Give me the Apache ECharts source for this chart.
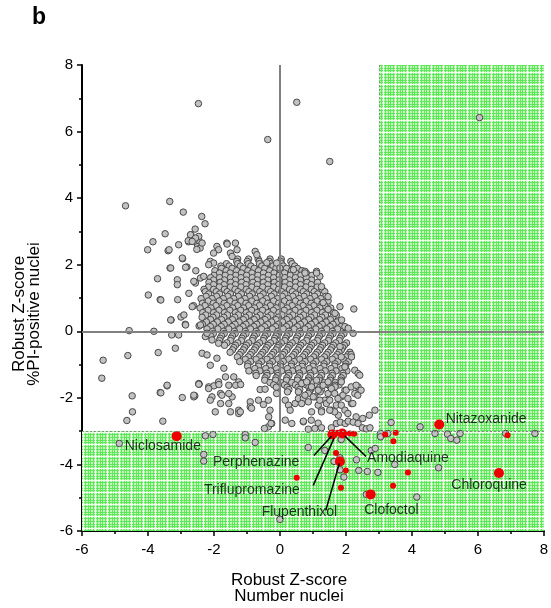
<!DOCTYPE html>
<html>
<head>
<meta charset="utf-8">
<script src="https://cdn.jsdelivr.net/npm/echarts@6/dist/echarts.min.js"></script>
<style>
  html, body { margin: 0; padding: 0; background: #fff; }
  #chart { width: 551px; height: 608px; }
</style>
</head>
<body>
<div id="chart"></div>
<script>
// axis ticks
const xTicks = [-6, -4, -2, 0, 2, 4, 6, 8];
const yTicks = [-6, -4, -2, 0, 2, 4, 6, 8];
const hitCutoff = 3; // robust Z-score threshold on both axes

// dense core of the screen, one row per y value: [y, x, x, ...]
const clusterRows = [
  [2.17, -1.28, -0.95, -0.66, -0.3, 0.04],
  [2.10, -1.31, -0.99, -0.63, -0.33, 0.02, 0.33],
  [2.03, -1.62, -1.28, -0.96, -0.62, -0.29, 0.05, 0.37],
  [1.96, -1.79, -1.54, -1.2, -0.88, -0.55, -0.21, 0.1, 0.45],
  [1.89, -1.77, -1.45, -1.11, -0.78, -0.46, -0.12, 0.2, 0.53],
  [1.82, -1.97, -1.63, -1.31, -0.97, -0.65, -0.31, 0.01, 0.35, 0.67],
  [1.75, -1.83, -1.51, -1.17, -0.85, -0.5, -0.18, 0.14, 0.48, 0.8],
  [1.68, -2.0, -1.66, -1.34, -1.01, -0.67, -0.35, -0.02, 0.31, 0.63, 0.97],
  [1.61, -2.1, -1.83, -1.5, -1.18, -0.84, -0.51, -0.19, 0.15, 0.47, 0.8],
  [1.54, -2.01, -1.68, -1.35, -1.02, -0.69, -0.37, -0.03, 0.29, 0.62, 0.96],
  [1.47, -2.15, -1.81, -1.49, -1.16, -0.82, -0.5, -0.17, 0.16, 0.48, 0.82, 1.14],
  [1.40, -2.01, -1.69, -1.35, -1.03, -0.69, -0.37, -0.04, 0.3, 0.62, 0.95],
  [1.33, -2.17, -1.84, -1.5, -1.18, -0.85, -0.52, -0.19, 0.14, 0.47, 0.79, 1.13],
  [1.26, -2.3, -2.01, -1.68, -1.36, -1.02, -0.7, -0.36, -0.04, 0.29, 0.63, 0.95, 1.28],
  [1.19, -2.26, -1.93, -1.6, -1.27, -0.94, -0.61, -0.28, 0.05, 0.38, 0.71, 1.04, 1.36],
  [1.12, -2.16, -1.83, -1.5, -1.17, -0.84, -0.51, -0.18, 0.15, 0.48, 0.81, 1.14],
  [1.05, -2.24, -1.92, -1.58, -1.26, -0.92, -0.6, -0.26, 0.07, 0.39, 0.73, 1.05, 1.39],
  [0.98, -2.39, -2.06, -1.72, -1.4, -1.06, -0.74, -0.41, -0.07, 0.25, 0.58, 0.91, 1.24],
  [0.91, -2.17, -1.84, -1.51, -1.18, -0.85, -0.52, -0.19, 0.14, 0.47, 0.8, 1.13, 1.46],
  [0.84, -2.35, -2.02, -1.69, -1.36, -1.03, -0.7, -0.37, -0.04, 0.29, 0.62, 0.95, 1.28],
  [0.77, -2.27, -1.94, -1.61, -1.28, -0.95, -0.62, -0.29, 0.04, 0.37, 0.7, 1.03, 1.36],
  [0.70, -2.42, -2.09, -1.76, -1.43, -1.1, -0.77, -0.44, -0.11, 0.22, 0.55, 0.88, 1.21, 1.54],
  [0.63, -2.18, -1.85, -1.52, -1.19, -0.86, -0.53, -0.2, 0.13, 0.46, 0.79, 1.12, 1.45],
  [0.56, -2.34, -2.01, -1.68, -1.35, -1.02, -0.69, -0.36, -0.03, 0.3, 0.63, 0.96, 1.29, 1.62],
  [0.49, -2.25, -1.92, -1.59, -1.26, -0.93, -0.6, -0.27, 0.06, 0.39, 0.72, 1.05, 1.38, 1.71],
  [0.42, -2.36, -2.03, -1.7, -1.37, -1.04, -0.71, -0.38, -0.05, 0.28, 0.61, 0.94, 1.27, 1.6],
  [0.35, -2.1, -1.77, -1.44, -1.11, -0.78, -0.45, -0.12, 0.21, 0.54, 0.87, 1.2, 1.53],
  [0.28, -2.23, -1.9, -1.57, -1.24, -0.91, -0.58, -0.25, 0.08, 0.41, 0.74, 1.07, 1.4, 1.73],
  [0.21, -2.35, -2.02, -1.69, -1.36, -1.03, -0.7, -0.37, -0.04, 0.29, 0.62, 0.95, 1.28, 1.61],
  [0.14, -2.11, -1.78, -1.45, -1.12, -0.79, -0.46, -0.13, 0.2, 0.53, 0.86, 1.19, 1.52, 1.85],
  [0.07, -2.21, -1.88, -1.55, -1.22, -0.89, -0.56, -0.23, 0.1, 0.43, 0.76, 1.09, 1.42, 1.75],
  [0.00, -2.04, -1.71, -1.38, -1.05, -0.72, -0.39, -0.06, 0.27, 0.6, 0.93, 1.26, 1.59, 1.92],
  [-0.07, -2.02, -1.69, -1.36, -1.03, -0.7, -0.37, -0.04, 0.29, 0.62, 0.95, 1.28, 1.61, 1.94],
  [-0.14, -2.1, -1.77, -1.44, -1.11, -0.78, -0.45, -0.12, 0.21, 0.54, 0.87, 1.2, 1.53, 1.86],
  [-0.21, -1.81, -1.48, -1.15, -0.82, -0.49, -0.16, 0.17, 0.5, 0.83, 1.16, 1.49, 1.82],
  [-0.28, -1.83, -1.5, -1.17, -0.84, -0.51, -0.18, 0.15, 0.48, 0.81, 1.14, 1.47, 1.8],
  [-0.35, -1.61, -1.28, -0.95, -0.62, -0.29, 0.04, 0.37, 0.7, 1.03, 1.36, 1.69, 2.02],
  [-0.42, -1.68, -1.35, -1.02, -0.69, -0.36, -0.03, 0.3, 0.63, 0.96, 1.29, 1.62, 1.95],
  [-0.49, -1.4, -1.07, -0.74, -0.41, -0.08, 0.25, 0.58, 0.91, 1.24, 1.57, 1.9],
  [-0.56, -1.44, -1.11, -0.78, -0.45, -0.12, 0.21, 0.54, 0.87, 1.2, 1.53, 1.86],
  [-0.63, -1.51, -1.18, -0.85, -0.52, -0.19, 0.14, 0.47, 0.8, 1.13, 1.46, 1.79, 2.12],
  [-0.70, -1.23, -0.9, -0.57, -0.24, 0.09, 0.42, 0.75, 1.08, 1.41, 1.74, 2.07],
  [-0.77, -1.29, -0.96, -0.63, -0.3, 0.03, 0.36, 0.69, 1.02, 1.35, 1.68, 2.01],
  [-0.84, -1.05, -0.72, -0.39, -0.06, 0.27, 0.6, 0.93, 1.26, 1.59, 1.92],
  [-0.91, -1.22, -0.89, -0.56, -0.23, 0.1, 0.43, 0.76, 1.09, 1.42, 1.75, 2.08],
  [-0.98, -0.97, -0.64, -0.31, 0.02, 0.35, 0.68, 1.01, 1.34, 1.67, 2.0],
  [-1.05, -0.98, -0.65, -0.32, 0.01, 0.34, 0.67, 1.0, 1.33, 1.66, 1.99],
  [-1.12, -0.76, -0.43, -0.1, 0.23, 0.56, 0.89, 1.22, 1.55, 1.88],
  [-1.19, -0.94, -0.61, -0.28, 0.05, 0.38, 0.71, 1.04, 1.37, 1.7, 2.03],
  [-1.26, -0.73, -0.4, -0.07, 0.26, 0.59, 0.92, 1.25, 1.58, 1.91],
  [-1.33, -0.72, -0.39, -0.06, 0.27, 0.6, 0.93, 1.26, 1.59, 1.92],
  [-1.40, -0.45, -0.12, 0.21, 0.54, 0.87, 1.2, 1.53, 1.86],
  [-1.47, -0.46, -0.13, 0.2, 0.53, 0.86, 1.19, 1.52, 1.85],
  [-1.54, -0.3, 0.03, 0.36, 0.69, 1.02, 1.35, 1.68],
  [-1.61, -0.19, 0.14, 0.47, 0.8, 1.13, 1.46, 1.79],
  [-1.68, -0.11, 0.22, 0.55, 0.88, 1.21, 1.54],
  [-1.75, 0.27, 0.6, 0.93, 1.26, 1.59],
  [-1.82, 0.23, 0.56, 0.89, 1.22, 1.55]
];

// scattered compounds around the core
const sparsePts = [
  [-2.47, 6.84], [-0.37, 5.76], [0.51, 6.88], [1.51, 5.10], [6.05, 6.42],
  [-4.68, 3.77], [-3.34, 3.90], [-2.93, 3.58], [-2.37, 3.45], [-2.27, 3.23], [-2.57, 3.07],
  [-3.48, 2.93], [-3.85, 2.69], [-4.01, 2.45], [-3.39, 2.42], [-3.07, 2.60], [-2.70, 2.90],
  [-2.77, 2.69], [-2.5, 2.6], [-2.45, 2.72], [-2.42, 2.5], [-2.52, 2.46],
  [-2.95, 2.18], [-3.33, 1.90], [-2.82, 1.93], [-2.55, 1.82], [-3.71, 1.58], [-3.11, 1.55],
  [-3.11, 1.40], [-2.56, 1.45], [-3.99, 1.09], [-3.63, 0.95], [-3.10, 0.95], [-2.62, 0.77],
  [-3.30, 0.34], [-3.0, 0.43], [-2.87, 0.21], [-2.45, 0.16],
  [-4.57, 0.02], [-3.82, 0.0], [-3.28, -0.11], [-3.07, -0.11], [-3.17, -0.51], [-3.69, -0.64],
  [-4.61, -0.73], [-5.36, -0.87], [-5.40, -1.41], [-3.42, -1.64], [-3.63, -1.84], [-4.48, -1.94],
  [-2.96, -1.99], [-2.58, -1.94], [-2.45, -1.59], [-4.47, -2.42], [-4.64, -2.68], [-3.55, -2.70],
  [-2.71, 2.9], [-2.46, 2.85], [-2.36, 2.65], [-2.61, 2.7], [-2.78, 2.72], [-3.36, 2.45],
  [-1.91, 2.55], [-1.86, 2.45], [-2.01, 2.35], [-1.61, 2.65], [-1.35, 2.65], [-1.3, 2.45],
  [-1.5, 2.35], [-1.45, 2.25], [-1.6, 2.62], [-2.96, 2.2], [-3.31, 1.9], [-2.86, 1.92],
  [-2.61, 1.5], [-2.41, 1.6], [-2.31, 1.65], [-2.11, 2.1], [-2.01, 2.05], [-2.16, 2.0],
  [-2.66, 0.74], [-2.76, 1.14], [-3.61, 0.94], [-3.31, 0.34], [-2.91, 0.49], [-2.86, 0.19],
  [-2.41, 0.19], [-2.26, -0.16], [-2.21, -0.06], [-2.06, -0.26], [-1.86, -0.36],
  [-2.36, -0.66], [-2.21, -0.71], [-2.11, -1.02], [-1.91, -0.81], [-1.7, -1.11], [-1.65, -1.37],
  [-1.4, -1.37], [-1.25, -1.52], [-1.55, -1.62], [-1.45, -1.97], [-2.46, -1.57], [-3.42, -1.62],
  [-3.61, -1.85], [-2.61, -1.97], [-2.06, -1.97], [-1.8, -1.87],
  [-0.75, 2.4], [-0.7, 2.3], [-0.4, 2.06], [-0.1, 2.05], [0.0, 1.9], [0.41, 1.85], [0.76, 1.8],
  [1.11, 1.8], [1.21, 1.65], [1.26, 1.34], [1.46, 1.04], [1.82, 0.74], [1.97, 0.14],
  [-2.56, 2.8], [-2.66, 2.7], [0.76, 1.75], [1.11, 1.75],
  [2.07, 0.09], [2.22, -0.06], [2.24, 0.67], [1.67, 0.54], [1.87, 0.34], [1.46, 0.66], [1.31, 0.86],
  [2.16, -0.7], [2.27, -1.17], [2.37, -1.27], [2.42, -1.32], [1.82, -0.46], [1.86, -0.77],
  [1.97, -1.07], [1.86, -1.52], [1.67, -1.62], [2.17, -0.77],
  [2.37, -1.67], [2.27, -1.87], [2.17, -2.17], [1.97, -2.37], [1.77, -2.52],
  [-2.61, -1.92], [-2.46, -1.59], [-2.16, -1.67], [-2.0, -1.64], [-1.86, -1.52], [-2.11, -2.07],
  [-1.76, -1.92], [-1.55, -1.87], [-1.96, -2.42], [-1.80, -2.17], [-1.55, -2.17], [-1.25, -2.37],
  [-1.25, -2.47], [-0.9, -2.12], [-0.9, -2.27], [-0.65, -2.07], [-0.35, -2.07], [-0.3, -2.37],
  [-0.6, -1.75], [-0.1, -1.87], [-0.25, -2.77], [-0.35, -2.87], [0.16, -2.07], [0.26, -2.22],
  [0.31, -2.37], [0.46, -2.17], [0.16, -2.67], [0.36, -2.77], [0.71, -2.72], [0.56, -2.02],
  [0.71, -2.02], [0.86, -1.87], [1.06, -1.97], [0.96, -2.42], [1.16, -2.22], [1.26, -2.37],
  [1.36, -2.07], [1.46, -1.87], [1.67, -1.67], [1.56, -2.37], [1.71, -2.22], [1.86, -1.97], [1.97, -1.77],
  [-2.16, -1.72], [-1.85, -1.6], [-1.34, -1.62], [-1.19, -1.6], [-1.50, -2.42], [-1.20, -2.42],
  [-0.86, -2.31], [-0.5, -2.2], [-0.45, -1.74], [-0.34, -2.57], [-0.27, -2.77], [-0.47, -2.92],
  [0.66, -1.57], [0.81, -1.52], [0.96, -1.67], [1.11, -1.47], [1.16, -1.77], [1.31, -1.62],
  [1.46, -1.52], [1.56, -1.72], [1.66, -1.87], [0.76, -1.92], [1.01, -1.97], [1.21, -2.07],
  [0.66, -2.17], [0.86, -2.12], [1.41, -2.17], [1.51, -2.07], [1.76, -2.02], [1.91, -1.92],
  [2.01, -1.77], [2.16, -1.67], [2.06, -2.02], [2.31, -1.62], [2.36, -1.92], [2.46, -1.77],
  [2.21, -2.17], [1.86, -2.22], [1.66, -2.42], [1.51, -2.37], [1.26, -2.42], [2.06, -2.47],
  [2.31, -2.57], [2.51, -2.62], [2.71, -2.52], [2.88, -2.37],
  [0.71, -2.70], [0.95, -2.67], [1.16, -2.76], [0.86, -2.94], [1.06, -2.92], [1.26, -2.90],
  [1.56, -2.90], [1.71, -2.77], [1.83, -2.73], [1.98, -2.77], [2.07, -2.70], [2.22, -2.73],
  [2.37, -2.77], [2.50, -2.90], [2.62, -2.93], [2.73, -2.90], [3.37, -2.74], [4.25, -2.87],
  [-4.87, -3.37], [-2.26, -3.14], [-2.03, -3.10], [-1.05, -3.10], [-1.05, -3.20], [-0.75, -3.34],
  [-2.31, -3.70], [-2.31, -3.90], [0.86, -3.49], [1.36, -3.58], [3.05, -3.07], [3.05, -3.17],
  [3.27, -3.07], [4.70, -3.07], [5.08, -3.09], [5.18, -3.22], [5.36, -3.27], [5.46, -3.07],
  [6.84, -3.07], [7.73, -3.07], [1.86, -3.25], [1.64, -3.91], [1.82, -3.80], [1.82, -4.16],
  [1.94, -4.38], [2.32, -3.86], [2.77, -3.58], [2.89, -3.52], [2.39, -4.18], [2.65, -4.21],
  [2.97, -4.24], [3.48, -4.0], [4.81, -4.10], [2.62, -4.90], [4.15, -4.98], [0.0, -5.65]
];

// hits (red)
const hitsLarge = [[-3.13, -3.15], [1.59, -3.10], [1.89, -3.07], [1.82, -3.91], [4.83, -2.80], [6.64, -4.26], [2.75, -4.90]];
const hitsSmall = [[1.75, -3.05], [2.12, -3.07], [2.25, -3.08], [1.70, -3.66], [2.0, -4.18], [1.85, -4.70],
  [3.19, -3.10], [3.51, -3.05], [3.44, -3.30], [6.90, -3.12], [3.88, -4.24], [3.43, -4.64], [0.51, -4.40]];

// drug names: [name, label x, label y]
const drugLabels = [
  ['Niclosamide', -3.55, -3.45],
  ['Perphenazine', -0.72, -3.94],
  ['Triflupromazine', -0.85, -4.78],
  ['Flupenthixol', 0.59, -5.44],
  ['Amodiaquine', 3.88, -3.82],
  ['Nitazoxanide', 6.25, -2.64],
  ['Chloroquine', 6.34, -4.63],
  ['Clofoctol', 3.38, -5.38]
];
// leader lines: [from x, from y, to x, to y]
const leaders = [
  [1.03, -3.73, 1.56, -3.15],
  [1.01, -4.63, 1.64, -3.21],
  [1.39, -5.38, 1.80, -3.97],
  [2.61, -3.76, 1.97, -3.15]
];

const clusterPts = clusterRows.flatMap(r => r.slice(1).map(x => [x, r[0]]));
const grayPts = clusterPts.concat(sparsePts);

// green hatched fill of the hit zones
function makeHatch() {
  const c = document.createElement('canvas');
  c.width = 12; c.height = 12;
  const g = c.getContext('2d');
  g.fillStyle = '#c6f6be';
  g.fillRect(0, 0, 12, 12);
  g.fillStyle = '#5fe85c';
  [1, 4, 6, 9].forEach(x => g.fillRect(x, 0, 1, 12));
  [2, 5, 8, 10].forEach(y => g.fillRect(0, y, 12, 1));
  g.fillStyle = '#f4fff2';
  g.fillRect(11, 0, 1, 12);
  g.fillRect(0, 0, 12, 1);
  return c;
}
const hatch = { image: makeHatch(), repeat: 'repeat' };

const FONT = 'Liberation Sans, Arial, sans-serif';
const chart = echarts.init(document.getElementById('chart'));

chart.setOption({
  animation: false,
  grid: { left: 82, right: 4, top: 65, bottom: 77, containLabel: false },
  xAxis: {
    type: 'value', min: xTicks[0], max: xTicks[xTicks.length - 1], interval: 2,
    axisLine: { onZero: false, lineStyle: { color: '#000', width: 2 } },
    axisTick: { length: 5, lineStyle: { color: '#000', width: 1.5 } },
    minorTick: { show: true, splitNumber: 2, length: 3, lineStyle: { color: '#000', width: 1.5 } },
    splitLine: { show: false },
    axisLabel: { fontSize: 15, color: '#000', fontFamily: FONT, margin: 11 }
  },
  yAxis: {
    type: 'value', min: yTicks[0], max: yTicks[yTicks.length - 1], interval: 2,
    axisLine: { onZero: false, lineStyle: { color: '#000', width: 2 } },
    axisTick: { length: 5, lineStyle: { color: '#000', width: 1.5 } },
    minorTick: { show: true, splitNumber: 2, length: 3, lineStyle: { color: '#000', width: 1.5 } },
    splitLine: { show: false },
    axisLabel: { fontSize: 15, color: '#000', fontFamily: FONT, margin: 9 }
  },
  graphic: [
    { type: 'text', left: 32, top: 6, style: { text: 'b', font: 'bold 23px ' + FONT, fill: '#000' } },
    { type: 'text', x: 289, y: 588, style: { text: 'Robust Z-score\nNumber nuclei', font: '17px ' + FONT, fill: '#000', textAlign: 'center', textVerticalAlign: 'middle', lineHeight: 16 } },
    { type: 'text', x: 27, y: 314, rotation: Math.PI / 2, style: { text: 'Robust Z-score\n%PI-positive nuclei', font: '17px ' + FONT, fill: '#000', textAlign: 'center', textVerticalAlign: 'middle', lineHeight: 15 } }
  ],
  series: [
    {
      type: 'scatter', data: [], silent: true, z: 1,
      markArea: {
        silent: true,
        itemStyle: { color: hatch },
        data: [
          [{ coord: [hitCutoff, -hitCutoff] }, { coord: [xTicks[xTicks.length - 1], yTicks[yTicks.length - 1]] }],
          [{ coord: [xTicks[0], yTicks[0]] }, { coord: [xTicks[xTicks.length - 1], -hitCutoff] }]
        ]
      },
      markLine: {
        silent: true, symbol: 'none', label: { show: false },
        lineStyle: { color: '#8a8a8a', width: 1, type: [2, 2] },
        data: [
          [{ coord: [xTicks[0], -hitCutoff] }, { coord: [xTicks[xTicks.length - 1], -hitCutoff] }],
          [{ coord: [hitCutoff, -hitCutoff] }, { coord: [hitCutoff, yTicks[yTicks.length - 1]] }]
        ]
      }
    },
    {
      type: 'scatter', data: [], silent: true, z: 2,
      markLine: {
        silent: true, symbol: 'none', label: { show: false },
        lineStyle: { color: '#808080', width: 2, type: 'solid' },
        data: [
          [{ coord: [xTicks[0], 0] }, { coord: [xTicks[xTicks.length - 1], 0] }],
          [{ coord: [0, -hitCutoff] }, { coord: [0, yTicks[yTicks.length - 1]] }]
        ]
      }
    },
    {
      type: 'scatter', data: grayPts, symbolSize: 6.5, z: 3, silent: true,
      itemStyle: { color: '#c2c2c2', borderColor: '#484848', borderWidth: 1, opacity: 1 }
    },
    {
      type: 'scatter', data: hitsSmall, symbolSize: 6, z: 4, silent: true,
      itemStyle: { color: '#ee0000', opacity: 1 }
    },
    {
      type: 'scatter', data: hitsLarge, symbolSize: 10, z: 4, silent: true,
      itemStyle: { color: '#ee0000', opacity: 1 }
    },
    {
      type: 'lines', coordinateSystem: 'cartesian2d', z: 5, silent: true,
      lineStyle: { color: '#000', width: 1.5, opacity: 1 },
      data: leaders.map(l => ({ coords: [[l[0], l[1]], [l[2], l[3]]] }))
    },
    {
      type: 'scatter', z: 6, silent: true, symbolSize: 0,
      data: drugLabels.map(d => ({ name: d[0], value: [d[1], d[2]] })),
      label: { show: true, position: 'inside', formatter: p => p.name, fontSize: 14, color: '#000', fontFamily: FONT }
    }
  ]
});
</script>
</body>
</html>
